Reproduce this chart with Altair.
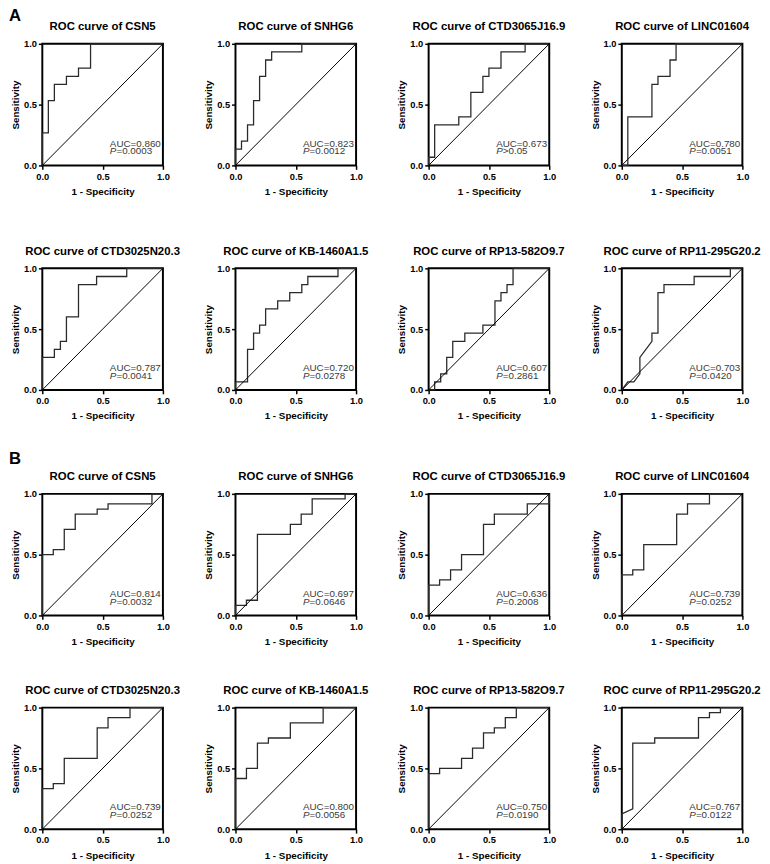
import altair as alt
import pandas as pd

FONT = "Liberation Sans"

genes = ["CSN5", "SNHG6", "CTD3065J16.9", "LINC01604",
         "CTD3025N20.3", "KB-1460A1.5", "RP13-582O9.7", "RP11-295G20.2"]

# ---- Cohort A: ROC vertices (1 - specificity, sensitivity) ----
a_fpr = [
    [0, 0, 0.05, 0.05, 0.1, 0.1, 0.2, 0.2, 0.3, 0.3, 0.4, 0.4, 1],
    [0, 0, 0.05, 0.05, 0.1, 0.1, 0.15, 0.15, 0.2, 0.2, 0.25, 0.25, 0.3, 0.3, 0.55, 0.55, 1],
    [0, 0, 0.05, 0.05, 0.25, 0.25, 0.35, 0.35, 0.45, 0.45, 0.5, 0.5, 0.6, 0.6, 0.8, 0.8, 1],
    [0, 0.05, 0.05, 0.25, 0.25, 0.3, 0.3, 0.4, 0.4, 0.45, 0.45, 1],
    [0, 0, 0.1, 0.1, 0.15, 0.15, 0.2, 0.2, 0.3, 0.3, 0.45, 0.45, 0.7, 0.7, 1],
    [0, 0, 0.1, 0.1, 0.15, 0.15, 0.2, 0.2, 0.25, 0.25, 0.35, 0.35, 0.45, 0.45, 0.55, 0.55, 0.6, 0.6, 0.85, 0.85, 1],
    [0, 0.05, 0.05, 0.1, 0.1, 0.15, 0.15, 0.2, 0.2, 0.3, 0.3, 0.45, 0.45, 0.55, 0.55, 0.6, 0.6, 0.65, 0.65, 0.7, 0.7, 1],
    [0, 0.05, 0.1, 0.15, 0.15, 0.25, 0.25, 0.3, 0.3, 0.35, 0.35, 0.6, 0.6, 0.9, 0.9, 1],
]
a_tpr = [
    [0, 0.267, 0.267, 0.533, 0.533, 0.667, 0.667, 0.733, 0.733, 0.8, 0.8, 1, 1],
    [0, 0.133, 0.133, 0.2, 0.2, 0.333, 0.333, 0.533, 0.533, 0.733, 0.733, 0.867, 0.867, 0.933, 0.933, 1, 1],
    [0, 0.067, 0.067, 0.333, 0.333, 0.4, 0.4, 0.6, 0.6, 0.733, 0.733, 0.8, 0.8, 0.933, 0.933, 1, 1],
    [0, 0, 0.4, 0.4, 0.667, 0.667, 0.733, 0.733, 0.867, 0.867, 1, 1],
    [0, 0.267, 0.267, 0.333, 0.333, 0.4, 0.4, 0.6, 0.6, 0.867, 0.867, 0.933, 0.933, 1, 1],
    [0, 0.067, 0.067, 0.333, 0.333, 0.467, 0.467, 0.533, 0.533, 0.667, 0.667, 0.733, 0.733, 0.8, 0.8, 0.867, 0.867, 0.933, 0.933, 1, 1],
    [0, 0, 0.067, 0.067, 0.133, 0.133, 0.267, 0.267, 0.4, 0.4, 0.467, 0.467, 0.533, 0.533, 0.733, 0.733, 0.8, 0.8, 0.867, 0.867, 1, 1],
    [0, 0.067, 0.067, 0.133, 0.267, 0.4, 0.467, 0.467, 0.8, 0.8, 0.867, 0.867, 0.933, 0.933, 1, 1],
]
a_auc = ["0.860", "0.823", "0.673", "0.780", "0.787", "0.720", "0.607", "0.703"]
a_pop = ["=", "=", ">", "=", "=", "=", "=", "="]
a_p = ["0.0003", "0.0012", "0.05", "0.0051", "0.0041", "0.0278", "0.2861", "0.0420"]

# ---- Cohort B ----
b_fpr = [
    [0, 0, 0.091, 0.091, 0.182, 0.182, 0.273, 0.273, 0.455, 0.455, 0.545, 0.545, 0.909, 0.909, 1],
    [0, 0, 0.091, 0.091, 0.182, 0.182, 0.455, 0.455, 0.545, 0.545, 0.636, 0.636, 0.909, 0.909, 1],
    [0, 0, 0.091, 0.091, 0.182, 0.182, 0.273, 0.273, 0.455, 0.455, 0.545, 0.545, 0.818, 0.818, 1, 1],
    [0, 0, 0.091, 0.091, 0.182, 0.182, 0.455, 0.455, 0.545, 0.545, 0.727, 0.727, 1],
    [0, 0, 0.091, 0.091, 0.182, 0.182, 0.455, 0.455, 0.545, 0.545, 0.727, 0.727, 1],
    [0, 0, 0.091, 0.091, 0.182, 0.182, 0.273, 0.273, 0.455, 0.455, 0.727, 0.727, 1],
    [0, 0, 0.091, 0.091, 0.273, 0.273, 0.364, 0.364, 0.455, 0.455, 0.545, 0.545, 0.636, 0.636, 0.727, 0.727, 1],
    [0, 0, 0.091, 0.091, 0.273, 0.273, 0.636, 0.636, 0.727, 0.727, 0.818, 0.818, 1],
]
b_tpr = [
    [0, 0.5, 0.5, 0.542, 0.542, 0.708, 0.708, 0.833, 0.833, 0.875, 0.875, 0.917, 0.917, 1, 1],
    [0, 0.083, 0.083, 0.125, 0.125, 0.667, 0.667, 0.75, 0.75, 0.833, 0.833, 0.958, 0.958, 1, 1],
    [0, 0.25, 0.25, 0.292, 0.292, 0.375, 0.375, 0.5, 0.5, 0.75, 0.75, 0.833, 0.833, 0.917, 0.917, 1],
    [0, 0.333, 0.333, 0.375, 0.375, 0.583, 0.583, 0.833, 0.833, 0.917, 0.917, 1, 1],
    [0, 0.333, 0.333, 0.375, 0.375, 0.583, 0.583, 0.833, 0.833, 0.917, 0.917, 1, 1],
    [0, 0.417, 0.417, 0.5, 0.5, 0.708, 0.708, 0.75, 0.75, 0.875, 0.875, 1, 1],
    [0, 0.458, 0.458, 0.5, 0.5, 0.583, 0.583, 0.667, 0.667, 0.792, 0.792, 0.833, 0.833, 0.917, 0.917, 1, 1],
    [0, 0.125, 0.167, 0.708, 0.708, 0.75, 0.75, 0.917, 0.917, 0.958, 0.958, 1, 1],
]
b_auc = ["0.814", "0.697", "0.636", "0.739", "0.739", "0.800", "0.750", "0.767"]
b_pop = ["=", "=", "=", "=", "=", "=", "=", "="]
b_p = ["0.0032", "0.0646", "0.2008", "0.0252", "0.0252", "0.0056", "0.0190", "0.0122"]

W, H = 123, 124
TXT_X = 0.56


def panel(name, fpr, tpr, auc, pop, pval, letter=None, letter_y=-23):
    scx = alt.Scale(domain=[0, 1], nice=False)
    scy = alt.Scale(domain=[0, 1], nice=False)
    xenc = alt.X("x:Q", scale=scx,
                 axis=alt.Axis(values=[0, 0.5, 1], format=".1f", title="1 - Specificity"))
    yenc = alt.Y("y:Q", scale=scy,
                 axis=alt.Axis(values=[0, 0.5, 1], format=".1f", title="Sensitivity"))
    df = pd.DataFrame({"x": fpr, "y": tpr, "i": list(range(len(fpr)))})
    curve = alt.Chart(df).mark_line(color="#2a2a2a", strokeWidth=1.3).encode(
        x=xenc, y=yenc, order="i:Q")
    diag = alt.Chart(pd.DataFrame({"x": [0, 1], "y": [0, 1]})).mark_line(
        color="black", strokeWidth=1).encode(x=xenc, y=yenc)
    t_auc = alt.Chart(pd.DataFrame({"x": [TXT_X], "y": [0.155], "t": ["AUC=" + auc]})).mark_text(
        align="left", baseline="alphabetic", font=FONT, fontSize=10, color="#3a3a3a").encode(
        x=xenc, y=yenc, text="t:N")
    t_p = alt.Chart(pd.DataFrame({"x": [TXT_X], "y": [0.09], "t": ["P"]})).mark_text(
        align="left", baseline="alphabetic", font=FONT, fontSize=10, fontStyle="italic",
        color="#3a3a3a").encode(x=xenc, y=yenc, text="t:N")
    t_v = alt.Chart(pd.DataFrame({"x": [TXT_X], "y": [0.09], "t": [pop + pval]})).mark_text(
        align="left", baseline="alphabetic", font=FONT, fontSize=10, dx=6.7,
        color="#3a3a3a").encode(x=xenc, y=yenc, text="t:N")
    title = alt.Chart(pd.DataFrame({"t": ["ROC curve of " + name]})).mark_text(
        align="center", baseline="alphabetic", font=FONT, fontSize=11.6, fontWeight="bold",
        color="black").encode(x=alt.value(W / 2), y=alt.value(-14), text="t:N")
    layers = [curve, diag, t_auc, t_p, t_v, title]
    if letter:
        lab = alt.Chart(pd.DataFrame({"t": [letter]})).mark_text(
            align="left", baseline="alphabetic", font=FONT, fontSize=17, fontWeight="bold",
            color="black").encode(x=alt.value(-34), y=alt.value(letter_y), text="t:N")
        layers.append(lab)
    return alt.layer(*layers).properties(width=W, height=H)


def grid(fprs, tprs, aucs, pops, ps, letter, letter_y, row_gap):
    charts = [panel(genes[j], fprs[j], tprs[j], aucs[j], pops[j], ps[j],
                    letter if j == 0 else None, letter_y) for j in range(8)]
    return alt.concat(*charts, columns=4, spacing={"row": row_gap, "column": 74},
                      bounds="flush")


gridA = grid(a_fpr, a_tpr, a_auc, a_pop, a_p, "A", -23, 105)
gridB = grid(b_fpr, b_tpr, b_auc, b_pop, b_p, "B", -30, 94)

chart = alt.vconcat(gridA, gridB, spacing=28).properties(
    padding={"left": 0, "top": -10, "right": 0, "bottom": -4}
).configure_view(
    stroke="black", strokeWidth=2
).configure_axis(
    domain=False, grid=False, ticks=True, tickSize=4, tickWidth=1.5, tickColor="black",
    labelFont=FONT, labelFontSize=9.5, labelFontWeight="bold", labelColor="black",
    labelPadding=2, labelFlush=False, labelOverlap=False,
    titleFont=FONT, titleFontSize=10, titleFontWeight="bold", titleColor="black"
).configure_axisX(
    titlePadding=6
).configure_axisY(
    titlePadding=3
)

chart.save("out.html", embed_options={"renderer": "svg", "actions": False})
